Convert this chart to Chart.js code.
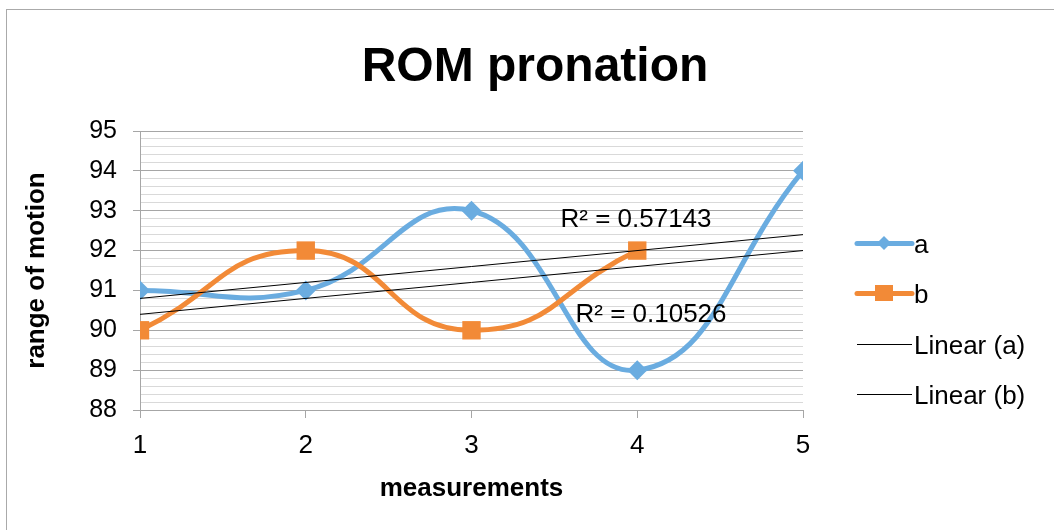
<!DOCTYPE html>
<html>
<head>
<meta charset="utf-8">
<script src="https://cdn.jsdelivr.net/npm/chart.js@4.4.1/dist/chart.umd.min.js"></script>
<style>
  body { margin: 0; background: #fff; }
  #wrap { position: relative; width: 1054px; height: 530px; }
</style>
</head>
<body>
<div id="wrap"><canvas id="rom-chart" width="1054" height="530"></canvas></div>
<script>
// values
var measurements = [1, 2, 3, 4, 5];
var seriesA = [91, 91, 93, 89, 94];
var seriesB = [90, 92, 90, 92];
var trendX = [1, 5];
var trendA = [90.8, 92.4];
var trendB = [90.4, 92.0];
var r2Labels = ["R\u00b2 = 0.57143", "R\u00b2 = 0.10526"];

var blue = "#6aace0";
var orange = "#f28a37";
var font = "'Liberation Sans', Arial, sans-serif";

function toPoints(xs, ys) {
  var pts = [];
  for (var i in ys) {
    pts.push({ x: xs[i], y: ys[i] });
  }
  return pts;
}

var chartdata = {
  datasets: [
    {
      label: "Linear (a)",
      data: toPoints(trendX, trendA),
      borderColor: "#000",
      borderWidth: 1,
      pointRadius: 0,
      tension: 0,
      order: 0
    },
    {
      label: "Linear (b)",
      data: toPoints(trendX, trendB),
      borderColor: "#000",
      borderWidth: 1,
      pointRadius: 0,
      tension: 0,
      order: 0
    },
    {
      label: "b",
      data: toPoints(measurements, seriesB),
      borderColor: orange,
      backgroundColor: orange,
      borderWidth: 5,
      borderCapStyle: "round",
      borderJoinStyle: "round",
      tension: 0.5,
      pointStyle: "rect",
      pointRadius: 13,
      pointBorderWidth: 0,
      order: 1
    },
    {
      label: "a",
      data: toPoints(measurements, seriesA),
      borderColor: blue,
      backgroundColor: blue,
      borderWidth: 5,
      borderCapStyle: "round",
      borderJoinStyle: "round",
      tension: 0.45,
      pointStyle: "rectRot",
      pointRadius: 10,
      pointBorderWidth: 0,
      order: 2
    }
  ]
};

// title, r-squared labels, legend and outer frame
var extras = {
  id: "extras",
  beforeDraw: function (chart) {
    var c = chart.ctx;
    c.save();
    c.strokeStyle = "#aaaaaa";
    c.lineWidth = 1;
    c.strokeRect(6.5, 9.5, 1200, 700);
    c.restore();
  },
  afterDraw: function (chart) {
    var c = chart.ctx;
    c.save();
    c.fillStyle = "#000";
    c.textBaseline = "alphabetic";
    c.textAlign = "center";
    c.font = "bold 48px " + font;
    c.fillText("ROM pronation", 535, 81);

    c.font = "26px " + font;
    c.fillText(r2Labels[0], 636, 227);
    c.fillText(r2Labels[1], 651, 322);

    // legend
    var items = [
      { text: "a", color: blue, width: 5, marker: "diamond", y: 243 },
      { text: "b", color: orange, width: 5, marker: "square", y: 293 },
      { text: "Linear (a)", color: "#000", width: 1, marker: null, y: 344 },
      { text: "Linear (b)", color: "#000", width: 1, marker: null, y: 394 }
    ];
    c.textAlign = "left";
    c.textBaseline = "middle";
    items.forEach(function (it) {
      c.strokeStyle = it.color;
      c.lineWidth = it.width;
      c.lineCap = it.width > 1 ? "round" : "butt";
      c.beginPath();
      c.moveTo(857, it.y + 0.5);
      c.lineTo(912, it.y + 0.5);
      c.stroke();
      c.fillStyle = it.color;
      if (it.marker == "diamond") {
        c.beginPath();
        c.moveTo(884, it.y - 7);
        c.lineTo(891, it.y);
        c.lineTo(884, it.y + 7);
        c.lineTo(877, it.y);
        c.closePath();
        c.fill();
      } else if (it.marker == "square") {
        c.fillRect(875, it.y - 8, 18, 16);
      }
      c.fillStyle = "#000";
      c.fillText(it.text, 914, it.y + 3);
    });
    c.restore();
  }
};

function isMajor(v) {
  return Math.abs(v - Math.round(v)) < 1e-6;
}

var ctx = document.getElementById("rom-chart");

var LineGraph = new Chart(ctx, {
  type: "line",
  data: chartdata,
  plugins: [extras],
  options: {
    responsive: false,
    animation: false,
    devicePixelRatio: 1,
    layout: { padding: { left: 0, right: 251, top: 131, bottom: 0 } },
    plugins: {
      legend: { display: false },
      title: { display: false },
      tooltip: { enabled: false }
    },
    scales: {
      x: {
        type: "linear",
        min: 1,
        max: 5,
        afterFit: function (scale) { scale.height = 120; },
        ticks: {
          stepSize: 1,
          color: "#000",
          padding: 12,
          font: { family: font, size: 26 }
        },
        grid: {
          drawOnChartArea: false,
          drawTicks: true,
          tickLength: 8,
          color: "#a6a6a6"
        },
        border: { color: "#a6a6a6", width: 1 },
        title: {
          display: true,
          text: "measurements",
          color: "#000",
          font: { family: font, size: 26, weight: "bold" },
          padding: { top: 0, bottom: 26 }
        }
      },
      y: {
        min: 88,
        max: 95,
        afterFit: function (scale) { scale.width = 140; },
        ticks: {
          stepSize: 0.2,
          autoSkip: false,
          color: "#000",
          padding: 16,
          font: { family: font, size: 25 },
          callback: function (v) { return isMajor(v) ? String(Math.round(v)) : ""; }
        },
        grid: {
          drawTicks: true,
          tickLength: 7,
          color: function (c) { return isMajor(c.tick.value) ? "#a6a6a6" : "#d9d9d9"; },
          tickColor: function (c) { return isMajor(c.tick.value) ? "#a6a6a6" : "rgba(0,0,0,0)"; }
        },
        border: { color: "#a6a6a6", width: 1 },
        title: {
          display: true,
          text: "range of motion",
          color: "#000",
          font: { family: font, size: 26, weight: "bold" },
          padding: { top: 21, bottom: 0 }
        }
      }
    }
  }
});
</script>
</body>
</html>
